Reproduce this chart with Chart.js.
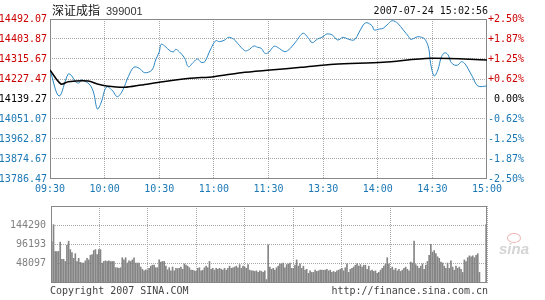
<!DOCTYPE html>
<html lang="zh-CN">
<head>
<meta charset="UTF-8">
<title>深证成指 399001</title>
<script src="https://cdn.jsdelivr.net/npm/chart.js@4.4.0/dist/chart.umd.min.js"></script>
<style>
  body { margin: 0; background: #fff; }
  #wrap { position: relative; width: 545px; height: 300px; overflow: hidden; }
  canvas { position: absolute; left: 0; }
  .txt { position: absolute; font: 10px "DejaVu Sans Mono", monospace; line-height: 12px; white-space: nowrap; }
</style>
</head>
<body>
<div id="wrap">
  <canvas id="priceChart" width="545" height="200" style="top:0"></canvas>
  <canvas id="volChart" width="545" height="105" style="top:195px"></canvas>
  <div class="txt" style="left:52px;top:2px;font:12px 'Noto Sans CJK SC',sans-serif;line-height:16px;color:#111">深证成指</div>
  <div class="txt" style="left:106px;top:4px;font:11px 'Liberation Sans',sans-serif;line-height:14px;color:#333">399001</div>
  <div class="txt" style="right:57px;top:5px;color:#111">2007-07-24 15:02:56</div>
  <div class="txt" style="left:50px;top:285px;color:#444">Copyright 2007 SINA.COM</div>
  <div class="txt" style="right:57px;top:285px;color:#444">http://finance.sina.com.cn</div>
  <div style="position:absolute;left:507px;top:233px;width:12px;height:8px;border:1px solid #f0b8b8;border-radius:50%"></div>
  <div class="txt" style="left:499px;top:241px;font:italic bold 15px 'Liberation Sans',sans-serif;line-height:16px;color:#d4d4d4">sina</div>
</div>
<script>
// 分时数据 (minutes after 09:30, lunch break removed)
const priceMin = [0,5,10,12,14,16,17,19,22,24,26,28,31,34,37,40,43,46,49,52,56,58,60,61,63,66,68,69,71,74,76,79,81,83,85,88,91,93,96,98,101,103,107,109,112,114,116,118,120,123,125,129,132,135,139,142,144,147,150,152,155,158,161,164,167,169,172,174,177,178,181,183,186,188,191,194,197,198,200,202,204,206,208,209,211,213,215,217,219,220,222,224,226,228,230,232,235,240];
const priceVal = [14267.2,14152.5,14249.5,14240.7,14215.6,14209.8,14223.1,14218.7,14201.0,14165.8,14095.2,14121.7,14192.2,14179.0,14149.4,14179.0,14237.6,14279.1,14274.7,14255.3,14267.2,14311.3,14346.6,14380.5,14373.0,14351.0,14347.9,14358.5,14347.9,14318.8,14281.7,14303.8,14315.7,14301.1,14303.8,14355.4,14396.4,14392.0,14399.5,14411.4,14402.6,14384.9,14352.3,14355.4,14373.0,14367.3,14362.9,14340.8,14344.4,14371.7,14367.3,14347.9,14362.9,14392.0,14429.0,14407.0,14387.6,14403.9,14414.0,14425.9,14421.5,14399.5,14411.4,14402.6,14399.5,14421.5,14465.6,14475.8,14461.2,14443.6,14448.0,14451.0,14473.1,14484.6,14473.1,14443.6,14414.0,14402.6,14407.0,14414.0,14411.4,14402.6,14362.9,14296.7,14240.7,14267.2,14325.8,14343.5,14328.9,14303.8,14289.2,14289.2,14303.8,14293.6,14267.2,14237.6,14196.6,14196.6];

// 均价线
const avgMin = [0,6,10,21,26,31,41,50,62,77,90,105,121,138,156,183,209,240];
const avgVal = [14267.2,14205.4,14215.6,14218.7,14205.4,14196.6,14190.9,14201.0,14215.6,14230.6,14237.6,14255.3,14267.2,14279.1,14292.3,14301.1,14318.8,14311.3];

// 成交量 (morning / afternoon)
const volAM = [103000,145900,78800,78800,78800,102200,59300,59300,53800,94400,104500,83500,75700,61600,73300,53800,61600,51500,49900,49900,55400,61600,57700,69400,71000,81100,83500,71000,83500,83500,49900,53800,55400,53800,55400,53800,53800,53800,38200,38200,36700,38200,63200,57700,63200,49900,55400,53800,57700,63200,49900,49900,49900,39800,34300,30400,32800,32800,36700,42100,44500,44500,38200,38200,57700,52300,53800,53800,42100,32800,38200,30400,39800,30400,36700,35900,36700,39800,34300,47600,44500,42100,38200,32000,32000,30400,28900,36700,38200,30400,32000,38200,42100,38200,53800,34300,36700,32000,36700,34300,36700,34300,32000,36700,32000,36700,42100,36700,38200,39800,42100,38200,46000,36700,42100,39800,36700,46000,32000,30400,30400,28900,30400,26500,30400,28900,26500,30400,8600];
const volPM = [95200,39800,34300,36700,32000,38200,42100,47600,47600,49900,38200,46000,47600,49900,36700,36700,44500,57700,42100,47600,36700,42100,32000,34300,24200,30400,26500,26500,32000,28900,30400,32000,32000,32000,32000,34300,30400,32000,26500,28900,26500,30400,32000,34300,36700,30400,38200,47600,26500,34300,36700,39800,44500,47600,42100,46000,39800,44500,44500,34300,42100,30400,32000,28900,30400,24200,26500,32000,36700,42100,47600,63200,47600,36700,39800,32000,36700,30400,34300,28900,32000,36700,39800,34300,30400,52300,49900,104500,46000,42100,36700,42100,47600,34300,44500,53800,69400,96700,77200,81100,73300,65500,61600,52300,49900,42100,36700,49900,36700,55400,39800,32000,42100,36700,39800,34300,26500,57700,53800,63200,67900,65500,67900,63200,69400,73300,26500,0,0,0,145900];

// 坐标轴
const priceTicks = [13786.47,13874.67,13962.87,14051.07,14139.27,14227.47,14315.67,14403.87,14492.07];
const pctLabels = ['-2.50%','-1.87%','-1.25%','-0.62%','0.00%','+0.62%','+1.25%','+1.87%','+2.50%'];
const prevClose = 14139.27;
const timeTicks = [0,30,60,90,120,150,180,210,240];
const timeLabels = ['09:30','10:00','10:30','11:00','11:30','13:30','14:00','14:30','15:00'];
const volTicks = [0,48097,96193,144290,192387];

const RED = '#cc0000', BLUE = '#1b78b4', LINE = '#2a86c2', GRID = '#a8a8a8', FRAME = '#888';
const monoFont = { family: 'DejaVu Sans Mono', size: 10 };

// draw a box round the plot area
const framePlugin = {
  id: 'frame',
  beforeDatasetsDraw(chart) {
    const a = chart.chartArea, c = chart.ctx;
    c.save();
    c.strokeStyle = FRAME;
    c.lineWidth = 1;
    c.strokeRect(Math.round(a.left) + 0.5, Math.round(a.top) + 0.5,
      Math.round(a.right - a.left) - 1, Math.round(a.bottom - a.top) - 1);
    c.restore();
  }
};

function gridColor(n) {
  return c => (c.index === 0 || c.index === n - 1) ? 'rgba(0,0,0,0)' : GRID;
}

const priceColor = c => {
  const v = c.tick.value;
  if (Math.abs(v - prevClose) < 0.01) return '#000';
  return v > prevClose ? RED : BLUE;
};

new Chart(document.getElementById('priceChart'), {
  type: 'line',
  data: {
    datasets: [
      { data: avgMin.map((m, i) => ({ x: m, y: avgVal[i] })), borderColor: '#000', borderWidth: 1.5, pointRadius: 0, tension: 0.3 },
      { data: priceMin.map((m, i) => ({ x: m, y: priceVal[i] })), borderColor: LINE, borderWidth: 1, pointRadius: 0, tension: 0.35 }
    ]
  },
  options: {
    responsive: false, animation: false, devicePixelRatio: 1,
    layout: { padding: { top: 19, right: 21, left: 0, bottom: 0 } },
    plugins: { legend: { display: false }, tooltip: { enabled: false } },
    scales: {
      x: {
        type: 'linear', min: 0, max: 240,
        afterBuildTicks: s => { s.ticks = timeTicks.map(v => ({ value: v })); },
        afterFit: s => { s.height = 21; },
        ticks: { autoSkip: false, maxRotation: 0, padding: 4, color: BLUE, font: monoFont,
                 callback: (v, i) => timeLabels[i] },
        grid: { drawTicks: false, color: gridColor(timeTicks.length) },
        border: { display: false, dash: [1, 1] }
      },
      y: {
        position: 'left', min: priceTicks[0], max: priceTicks[priceTicks.length - 1],
        afterBuildTicks: s => { s.ticks = priceTicks.map(v => ({ value: v })); },
        afterFit: s => { s.width = 50; },
        ticks: { autoSkip: false, padding: 3, color: priceColor, font: monoFont,
                 callback: v => v.toFixed(2) },
        grid: { drawTicks: false, color: gridColor(priceTicks.length) },
        border: { display: false, dash: [1, 1] }
      },
      y2: {
        position: 'right', min: priceTicks[0], max: priceTicks[priceTicks.length - 1],
        afterBuildTicks: s => { s.ticks = priceTicks.map(v => ({ value: v })); },
        afterFit: s => { s.width = 37; },
        ticks: { autoSkip: false, crossAlign: 'far', color: priceColor, font: monoFont,
                 callback: (v, i) => pctLabels[i] },
        grid: { display: false },
        border: { display: false }
      }
    }
  },
  plugins: [framePlugin]
});

const vols = volAM.concat(volPM);
new Chart(document.getElementById('volChart'), {
  type: 'bar',
  data: {
    labels: vols.map((v, i) => i),
    datasets: [{ data: vols, backgroundColor: '#858585', barThickness: 1 }]
  },
  options: {
    responsive: false, animation: false, devicePixelRatio: 1,
    layout: { padding: { top: 7, right: 58, left: 0, bottom: 17 } },
    plugins: { legend: { display: false }, tooltip: { enabled: false } },
    scales: {
      x: { display: false },
      xg: {
        type: 'linear', position: 'bottom', min: 0, max: 240,
        afterBuildTicks: s => { s.ticks = timeTicks.map(v => ({ value: v })); },
        afterFit: s => { s.height = 0; },
        ticks: { display: false },
        grid: { drawTicks: false, color: gridColor(timeTicks.length) },
        border: { display: false, dash: [1, 1] }
      },
      y: {
        min: 0, max: volTicks[volTicks.length - 1],
        afterBuildTicks: s => { s.ticks = volTicks.map(v => ({ value: v })); },
        afterFit: s => { s.width = 51; },
        ticks: { autoSkip: false, padding: 5, color: '#808080', font: monoFont,
                 callback: (v, i) => (i === 0 || i === volTicks.length - 1) ? '' : String(v) },
        grid: { drawTicks: false, color: gridColor(volTicks.length) },
        border: { display: false, dash: [1, 1] }
      }
    }
  },
  plugins: [framePlugin]
});
</script>
</body>
</html>
